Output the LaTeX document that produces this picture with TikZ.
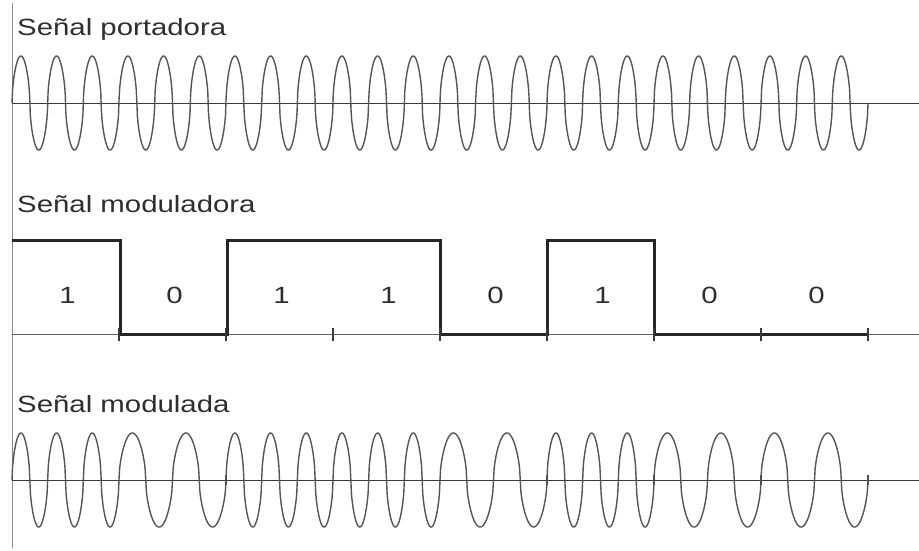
\documentclass[tikz,border=0pt]{standalone}
\usepackage{fontspec}
\setmainfont{Liberation Sans}
\definecolor{wavegray}{HTML}{555555}
\definecolor{axisgray}{HTML}{3A3A3A}
\definecolor{vgray}{HTML}{8A8A8A}
\definecolor{txtgray}{HTML}{2E2E2E}
\begin{document}
\begin{tikzpicture}[x=1pt,y=-1pt,
  declare function={sw(\t)=(sin(\t)>=0 ? 1 : -1)*pow(abs(sin(\t))+0.00001,0.55);},
  title/.style={anchor=base west,inner sep=0pt,text=txtgray,font=\fontsize{23.5}{26}\selectfont},
  bitlabel/.style={anchor=base,inner sep=0pt,text=txtgray,font=\fontsize{23.5}{26}\selectfont},
  wave/.style={draw=wavegray,line width=1.4pt},
  axisline/.style={draw=axisgray,line width=1pt},
  square/.style={draw=black!85,line width=3pt,line join=miter},
  tickmark/.style={draw=axisgray,line width=1.2pt}]
\useasboundingbox (0,0) rectangle (919,550);
% vertical axis
\coordinate (vtop) at (12.5,3);
\coordinate (vbot) at (12.5,548);
\draw[draw=vgray,line width=1.6pt] (vtop) -- (vbot);
% titles
\node[title] (t1) at (17,35) {\scalebox{1.25}[1]{Señal portadora}};
\node[title] (t2) at (17,212) {\scalebox{1.25}[1]{Señal moduladora}};
\node[title] (t3) at (17,412) {\scalebox{1.25}[1]{Señal modulada}};
% axes
\coordinate (a1l) at (12,103); \coordinate (a1r) at (919,103);
\coordinate (a2l) at (12,334); \coordinate (a2r) at (919,334);
\coordinate (a3l) at (12,480); \coordinate (a3r) at (919,480);
\draw[axisline] (a1l) -- (a1r);
\draw[axisline,draw=axisgray!80] (a2l) -- (a2r);
\draw[axisline] (a3l) -- (a3r);
% carrier
\draw[wave,line join=round] plot[domain=0:856,samples=1400] ({12+\x},{103-47*sw(\x*10.09346)});
% modulating square wave
\draw[square] (12,240) -- (120,240) -- (120,334) -- (227,334) -- (227,240) -- (440.5,240)
  -- (440.5,334) -- (547.5,334) -- (547.5,240) -- (654.5,240) -- (654.5,334) -- (868,334);
% ticks on modulating axis
\foreach \k in {1,...,8} {
  \draw[tickmark] ({12+107*\k},328) -- ({12+107*\k},341);
}
% bit labels
\foreach \b [count=\i from 0] in {1,0,1,1,0,1,0,0} {
  \node[bitlabel] (b\i) at ({65.5+107*\i+2},303) {\scalebox{1.25}[1]{\b}};
}
% modulated wave
\foreach \b [count=\i from 0] in {1,0,1,1,0,1,0,0} {
  \pgfmathsetmacro{\n}{\b==1 ? 3 : 2}
  \draw[wave,line join=round] plot[domain=0:107,samples=181] ({12+107*\i+\x},{480-47*sw(\x*\n*3.364486)});
}
% ticks on modulated axis
\foreach \k in {2,5,6,7,8} {
  \draw[tickmark,draw=axisgray!90] ({12+107*\k},475) -- ({12+107*\k},485);
}
\end{tikzpicture}
\end{document}
